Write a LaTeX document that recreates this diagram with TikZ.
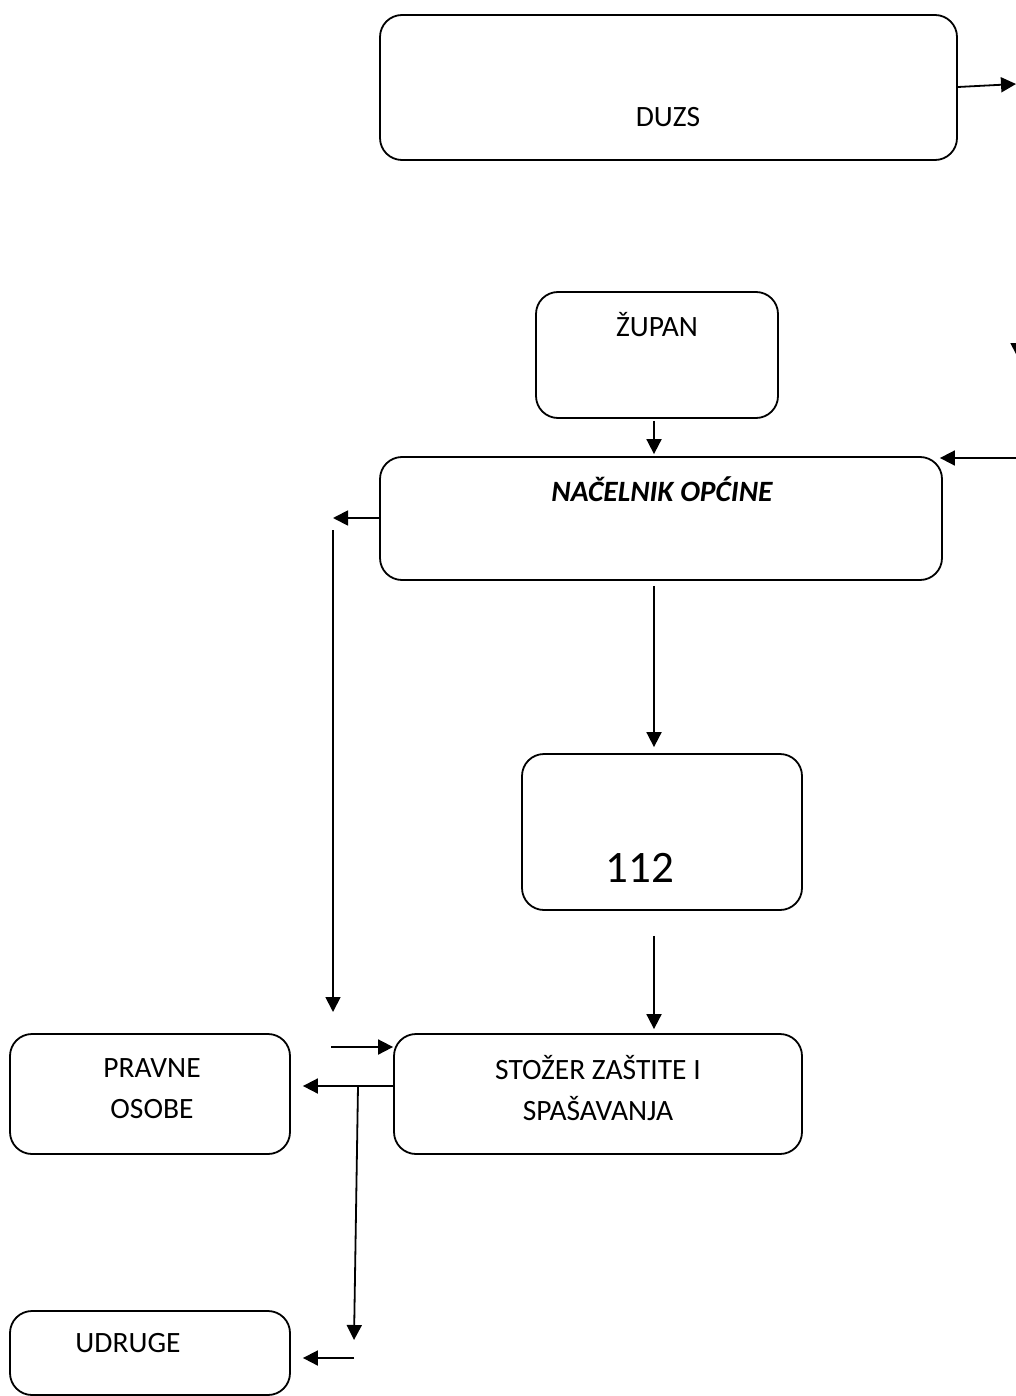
\documentclass[tikz,border=0pt]{standalone}
\usepackage{fontspec}
\setmainfont{Carlito}
\usetikzlibrary{arrows.meta}

\tikzset{
  box/.style={draw, line width=1.8pt, rounded corners=22pt, inner sep=0pt},
  lbl/.style={inner sep=0pt, font=\fontsize{29.5}{41}\selectfont, align=center},
  arr/.style={line width=1.8pt, -{Triangle[length=15pt,width=15pt]}}
}

\begin{document}
\begin{tikzpicture}[x=1pt,y=-1pt]
  \useasboundingbox (0,0) rectangle (1016,1396);
  \clip (0,0) rectangle (1016,1396);

  % Boxes
  \node[box, minimum width=577pt, minimum height=145pt] (duzs) at (668.5,87.5) {};
  \node[box, minimum width=242pt, minimum height=126pt] (zupan) at (657,355) {};
  \node[box, minimum width=562pt, minimum height=123pt] (nacelnik) at (661,518.5) {};
  \node[box, minimum width=280pt, minimum height=156pt] (jedan) at (662,832) {};
  \node[box, minimum width=408pt, minimum height=120pt] (stozer) at (598,1094) {};
  \node[box, minimum width=280pt, minimum height=120pt] (pravne) at (150,1094) {};
  \node[box, minimum width=280pt, minimum height=84pt] (udruge) at (150,1353) {};

  % Texts
  \node[lbl, anchor=base] (duzs-t) at (668,127) {DUZS};
  \node[lbl, anchor=base] (zupan-t) at (657,336) {ŽUPAN};
  \node[lbl, anchor=base, font=\fontsize{29.5}{41}\selectfont\bfseries\itshape] (nacelnik-t) at (662,501) {NAČELNIK OPĆINE};
  \node[lbl, anchor=base, font=\fontsize{45}{52}\selectfont] (jedan-t) at (640,882) {112};
  \node[lbl] (stozer-t) at (598,1088) {STOŽER ZAŠTITE I\\SPAŠAVANJA};
  \node[lbl] (pravne-t) at (152,1089) {PRAVNE\\OSOBE};
  \node[lbl, anchor=base] (udruge-t) at (128,1352) {UDRUGE};

  % Free ends
  \coordinate (col) at (654,0);
  \coordinate (duzs-out) at (1016,84);
  \coordinate (rd-a) at (1018,300);
  \coordinate (rd-b) at (1018,358);
  \coordinate (rin) at (1016,458);
  \coordinate (lout) at (333,518);
  \coordinate (lv-a) at (333,530);
  \coordinate (lv-b) at (333,1012);
  \coordinate (lin) at (331,1047);
  \coordinate (br-a) at (358,1086);
  \coordinate (br-b) at (354,1340);
  \coordinate (ud-in) at (354,1358);

  % Connectors
  \draw[arr] ([yshift=-3pt]duzs.east |- duzs-out) -- (duzs-out);
  \draw[arr] (rd-a) -- (rd-b);
  \draw[arr, shorten >=-3pt] (rin) -- (rin -| nacelnik.east);
  \draw[arr, shorten <=2pt, shorten >=2pt] (zupan.south -| col) -- (nacelnik.north -| col);
  \draw[arr] (nacelnik.west |- lout) -- (lout);
  \draw[arr] (lv-a) -- (lv-b);
  \draw[arr] (lin) -- (lin -| stozer.west);
  \draw[arr, shorten <=5pt, shorten >=6pt] (nacelnik.south -| col) -- (jedan.north -| col);
  \draw[arr, shorten <=25pt, shorten >=4pt] (jedan.south -| col) -- (stozer.north -| col);
  \draw[arr, shorten >=12pt] (stozer.west |- br-a) -- (pravne.east |- br-a);
  \draw[arr] (br-a) -- (br-b);
  \draw[arr, shorten >=12pt] (ud-in) -- (ud-in -| udruge.east);
\end{tikzpicture}
\end{document}
